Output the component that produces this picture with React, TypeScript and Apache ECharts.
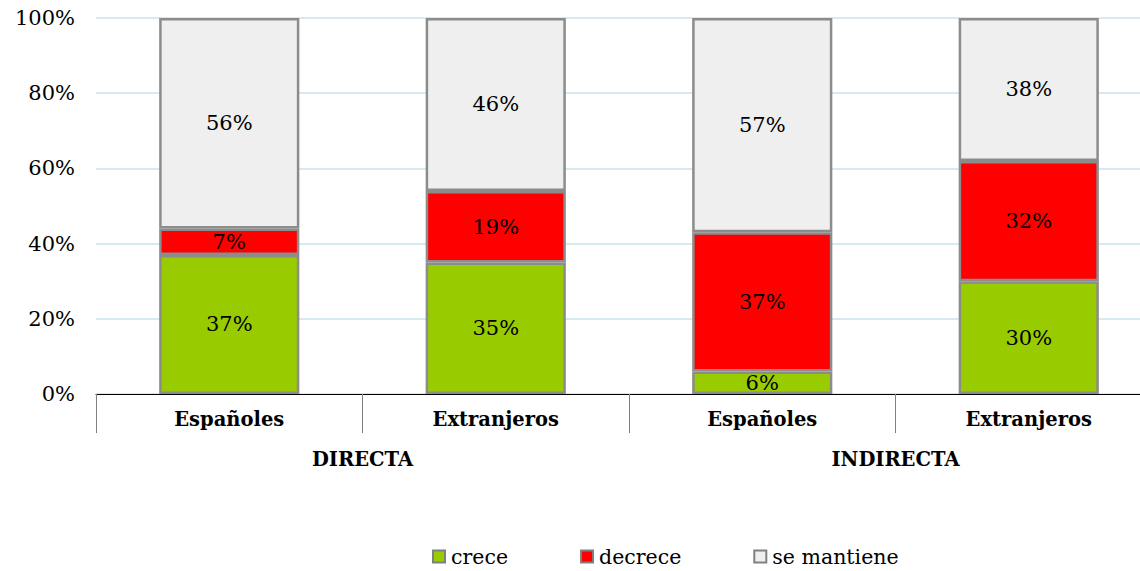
import React, { useEffect, useRef } from "react";
import * as echarts from "echarts";

const categories = ["Españoles", "Extranjeros", "Españoles", "Extranjeros"];
const groups = ["DIRECTA", "INDIRECTA"];
const crece = [37, 35, 6, 30];
const decrece = [7, 19, 37, 32];
const seMantiene = [56, 46, 57, 38];
const yTicks = [0, 20, 40, 60, 80, 100];

const FONT = "Georgia, 'DejaVu Serif', serif";

export default function App() {
  const ref = useRef<HTMLDivElement>(null);
  useEffect(() => {
    const chart = echarts.init(ref.current!, null, { renderer: "svg" });
    const mk = (name: string, data: number[], color: string) => ({
      name,
      type: "bar",
      stack: "total",
      data,
      barWidth: "52.6%",
      itemStyle: { color, borderColor: "#8c8c8c", borderWidth: 2.5 },
      label: {
        show: true,
        position: "inside",
        formatter: "{c}%",
        color: "#000",
        fontFamily: FONT,
        fontSize: 21,
      },
    });
    chart.setOption({
      animation: false,
      textStyle: { fontFamily: FONT },
      grid: { left: 96, right: 2, top: 18, bottom: 177, containLabel: false },
      legend: {
        left: 427,
        top: 541,
        icon: "rect",
        itemWidth: 12,
        itemHeight: 12,
        itemGap: 72,
        itemStyle: { borderColor: "#808080", borderWidth: 2 },
        textStyle: { fontFamily: FONT, fontSize: 20.5, color: "#000", padding: [0, 0, 0, 1] },
        data: ["crece", "decrece", "se mantiene"],
      },
      xAxis: [
        {
          type: "category",
          data: categories,
          position: "bottom",
          axisLine: { show: true, lineStyle: { color: "#000", width: 1 } },
          axisTick: { show: true, length: 39, interval: 0, lineStyle: { color: "#808080" } },
          axisLabel: {
            interval: 0,
            margin: 15,
            color: "#000",
            fontFamily: FONT,
            fontWeight: "bold",
            fontSize: 19.5,
          },
        },
        {
          type: "category",
          data: groups,
          position: "bottom",
          axisLine: { show: false },
          axisTick: { show: false },
          axisLabel: {
            interval: 0,
            margin: 55,
            color: "#000",
            fontFamily: FONT,
            fontWeight: "bold",
            fontSize: 19.5,
          },
        },
      ],
      yAxis: {
        type: "value",
        min: 0,
        max: 100,
        interval: 20,
        axisLine: { show: false },
        axisTick: { show: false },
        axisLabel: {
          formatter: (v: number) => (yTicks.includes(v) ? v + "%" : ""),
          color: "#000",
          fontFamily: FONT,
          fontSize: 21,
          margin: 21,
        },
        splitLine: { lineStyle: { color: "#d6eaf2", width: 2 } },
      },
      series: [
        mk("crece", crece, "#99cc00"),
        mk("decrece", decrece, "#ff0000"),
        mk("se mantiene", seMantiene, "#efefef"),
      ],
    });
    return () => chart.dispose();
  }, []);
  return (
    <div style={{ position: "fixed", left: 0, top: 0, width: 1140, height: 571, overflow: "hidden", background: "#fff" }}>
      <div ref={ref} style={{ width: 1164, height: 571 }} />
    </div>
  );
}
